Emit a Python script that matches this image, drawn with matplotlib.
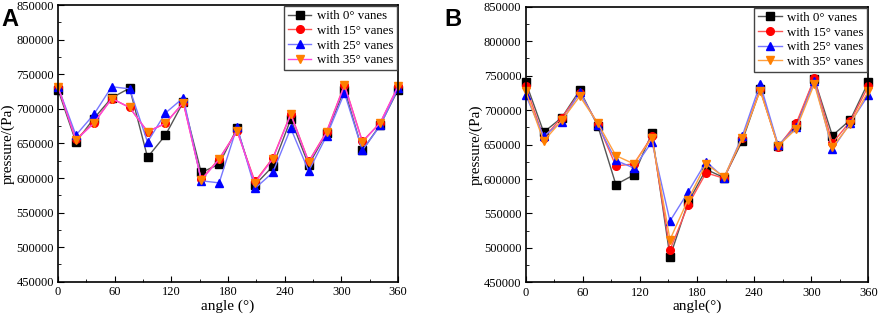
import matplotlib
matplotlib.use("Agg")
import matplotlib.pyplot as plt
from matplotlib.ticker import MultipleLocator

plt.rcParams['font.family'] = ['Liberation Serif', 'DejaVu Serif']

## angles: 20 points round the circle
angle = [i * 360 / 19 for i in range(20)]

labels = ["with 0° vanes", "with 15° vanes", "with 25° vanes", "with 35° vanes"]

## panel A
a_0 = [728000, 652000, 686000, 716000, 730000, 630000, 662000, 710000, 608000, 620000,
       672000, 590000, 617000, 685000, 619000, 665000, 728000, 640000, 677000, 728000]
a_15 = [732000, 656000, 680000, 715000, 702000, 667000, 679000, 709000, 598000, 628000,
        668000, 595000, 629000, 693000, 624000, 667000, 735000, 653000, 680000, 733000]
a_25 = [732000, 662000, 692000, 732000, 729000, 652000, 694000, 716000, 596000, 593000,
        674000, 585000, 608000, 672000, 610000, 661000, 723000, 640000, 676000, 730000]
a_35 = [732000, 655000, 679000, 715000, 702000, 667000, 679000, 709000, 597000, 627000,
        668000, 593000, 628000, 692000, 623000, 666000, 734000, 652000, 680000, 733000]

## panel B
b_0 = [741000, 668000, 689000, 729000, 677000, 592000, 606000, 667000, 487000, 566000,
       614000, 602000, 655000, 730000, 648000, 678000, 745000, 663000, 686000, 741000]
b_15 = [735000, 660000, 689000, 725000, 680000, 619000, 622000, 662000, 497000, 562000,
        609000, 601000, 659000, 730000, 647000, 681000, 746000, 652000, 684000, 735000]
b_25 = [722000, 662000, 683000, 726000, 678000, 627000, 616000, 654000, 539000, 581000,
        625000, 602000, 662000, 738000, 649000, 675000, 742000, 643000, 682000, 722000]
b_35 = [728000, 655000, 685000, 720000, 681000, 634000, 622000, 660000, 512000, 570000,
        622000, 603000, 659000, 728000, 648000, 673000, 738000, 646000, 680000, 728000]

markers = ["s", "o", "^", "v"]
marker_colors = ["black", "red", "blue", "#ff7f00"]
line_colors_a = ["#555555", "#ff5555", "#7777ff", "#ff44dd"]
line_colors_b = ["#555555", "#ff5555", "#7777ff", "#ffa040"]


def draw(ax, series, line_colors, xlabel):
    for y, m, mc, lc, lab in zip(series, markers, marker_colors, line_colors, labels):
        ax.plot(angle, y, color=lc, linewidth=1.0, marker=m, markersize=5.5,
                markerfacecolor=mc, markeredgecolor=mc, label=lab, clip_on=False)
    ax.set_xlim(0, 360)
    ax.set_ylim(450000, 850000)
    ax.xaxis.set_major_locator(MultipleLocator(60))
    ax.xaxis.set_minor_locator(MultipleLocator(30))
    ax.yaxis.set_major_locator(MultipleLocator(50000))
    ax.yaxis.set_minor_locator(MultipleLocator(25000))
    ax.tick_params(which="both", direction="in", labelsize=9)
    ax.tick_params(which="major", length=4, pad=3)
    ax.tick_params(which="minor", length=2)
    for s in ax.spines.values():
        s.set_linewidth(1.2)
    ax.set_xlabel(xlabel, fontsize=11, labelpad=1)
    ax.set_ylabel("pressure/(Pa)", fontsize=11, labelpad=1)
    leg = ax.legend(loc="upper right", fontsize=9.3, fancybox=False, framealpha=1,
                    borderpad=0.3, labelspacing=0.2, handlelength=1.8,
                    handletextpad=0.4, borderaxespad=0.1)
    leg.get_frame().set_edgecolor("#444444")
    leg.get_frame().set_linewidth(1.0)


fig = plt.figure(figsize=(8.79, 3.22), dpi=100)
ax1 = fig.add_axes([0.066, 0.125, 0.387, 0.859])
ax2 = fig.add_axes([0.598, 0.123, 0.390, 0.856])

draw(ax1, [a_0, a_15, a_25, a_35], line_colors_a, "angle (°)")
draw(ax2, [b_0, b_15, b_25, b_35], line_colors_b, "angle(°)")

fig.text(0.002, 0.975, "A", fontsize=17, fontweight="bold", family="Liberation Sans", va="top")
fig.text(0.505, 0.975, "B", fontsize=17, fontweight="bold", family="Liberation Sans", va="top")

fig.savefig("out.png", dpi=100)
